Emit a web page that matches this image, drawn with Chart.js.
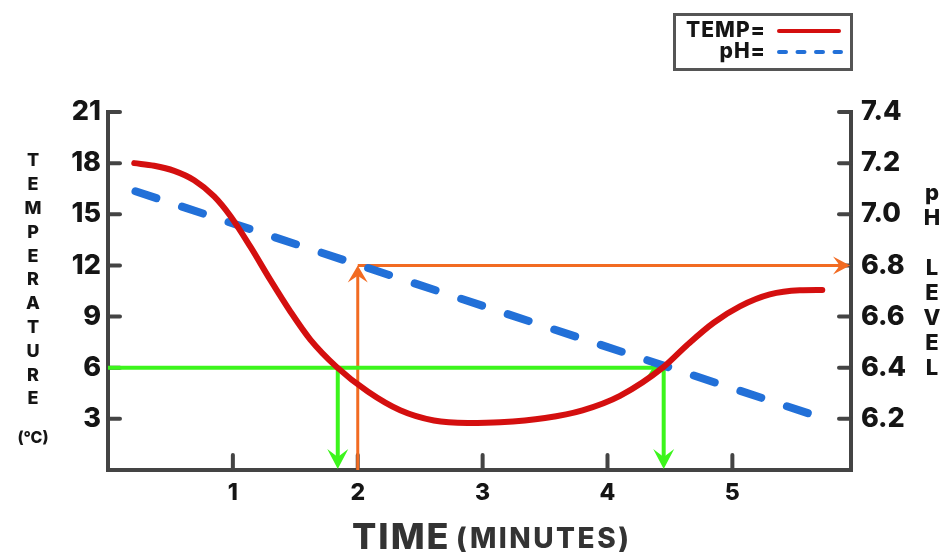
<!DOCTYPE html>
<html><head><meta charset="utf-8">
<script src="https://cdn.jsdelivr.net/npm/chart.js@4.4.0/dist/chart.umd.min.js"></script>
<style>html,body{margin:0;padding:0;background:#fff}#wrap{width:946px;height:552px}</style>
</head><body><div id="wrap"><canvas id="c" width="946" height="552"></canvas></div>
<script>
// ---- data ----
const tempTime   = [0.21, 0.37, 0.53, 0.69, 0.85, 0.98, 1.14, 1.30, 1.46, 1.62, 1.83, 2.08, 2.34, 2.61, 2.88, 3.14, 3.50, 3.80, 4.10, 4.45, 4.64, 4.85, 5.06, 5.30, 5.54, 5.72];
const tempValues = [18.0, 17.85, 17.55, 17.0, 16.05, 14.9, 13.1, 11.15, 9.3, 7.65, 6.05, 4.6, 3.5, 2.9, 2.76, 2.8, 3.05, 3.5, 4.35, 6.05, 7.35, 8.64, 9.6, 10.3, 10.54, 10.56];
const phTime   = [0.22, 5.68];
const phValues = [7.09, 6.21];
const timeTicks = [1, 2, 3, 4, 5];
const tempTicks = [3, 6, 9, 12, 15, 18, 21];
const phTicks   = [6.2, 6.4, 6.6, 6.8, 7.0, 7.2, 7.4];
// reading guides
const orangeTime = 2;
const orangePh = 6.8;
const greenTemp = 6;
const greenTimes = [1.84, 4.45];

const FONT = "Inter, 'DejaVu Sans', sans-serif";
const INK = '#444444';
const LABEL = '#151515';
const RED = '#d40f0f';
const BLUE = '#2270d8';
const ORANGE = '#f26b22';
const GREEN = '#3cf51c';

function arrowHead(ctx, x, y, dir, color, len, half) {
  ctx.save();
  ctx.fillStyle = color;
  ctx.translate(x, y);
  const ang = {right: 0, down: Math.PI / 2, up: -Math.PI / 2}[dir];
  ctx.rotate(ang);
  ctx.beginPath();
  ctx.moveTo(0, 0);
  ctx.lineTo(-len, -half);
  ctx.lineTo(-len * 0.6, 0);
  ctx.lineTo(-len, half);
  ctx.closePath();
  ctx.fill();
  ctx.restore();
}

const decor = {
  id: 'decor',
  beforeDatasetsDraw(chart) {
    const {ctx, chartArea: a, scales} = chart;
    const xs = scales.x, yT = scales.yT, yP = scales.yP;
    ctx.save();
    ctx.strokeStyle = INK; ctx.lineWidth = 4; ctx.lineCap = 'round';
    tempTicks.forEach(v => { const y = yT.getPixelForValue(v); ctx.beginPath(); ctx.moveTo(a.left, y); ctx.lineTo(a.left + 12, y); ctx.stroke(); });
    phTicks.forEach(v => { const y = yP.getPixelForValue(v); ctx.beginPath(); ctx.moveTo(a.right - 12, y); ctx.lineTo(a.right, y); ctx.stroke(); });
    timeTicks.forEach(v => { const x = xs.getPixelForValue(v); ctx.beginPath(); ctx.moveTo(x, a.bottom); ctx.lineTo(x, a.bottom - 15); ctx.stroke(); });
    ctx.fillStyle = INK;
    ctx.fillRect(a.left - 2, a.bottom - 2, 4, 4);
    ctx.fillRect(a.right - 2, a.bottom - 2, 4, 4);
    // orange guide
    const ox = xs.getPixelForValue(orangeTime), oy = yP.getPixelForValue(orangePh);
    ctx.strokeStyle = ORANGE; ctx.lineWidth = 3; ctx.lineCap = 'butt';
    ctx.beginPath(); ctx.moveTo(ox, a.bottom); ctx.lineTo(ox, oy + 8); ctx.stroke();
    ctx.beginPath(); ctx.moveTo(ox, oy); ctx.lineTo(a.right - 8, oy); ctx.stroke();
    arrowHead(ctx, ox, oy, 'up', ORANGE, 17, 10);
    arrowHead(ctx, a.right - 1, oy, 'right', ORANGE, 17, 9);
    // green guides
    const gy = yT.getPixelForValue(greenTemp);
    const gx2 = xs.getPixelForValue(greenTimes[1]);
    ctx.strokeStyle = GREEN; ctx.lineWidth = 4;
    ctx.beginPath(); ctx.moveTo(a.left, gy); ctx.lineTo(gx2 - 8, gy); ctx.stroke();
    arrowHead(ctx, gx2, gy, 'right', GREEN, 18, 11);
    greenTimes.forEach(t => {
      const gx = xs.getPixelForValue(t);
      ctx.beginPath(); ctx.moveTo(gx, gy); ctx.lineTo(gx, a.bottom - 8); ctx.stroke();
      arrowHead(ctx, gx, a.bottom - 1, 'down', GREEN, 20, 10.5);
    });
    ctx.restore();
  },
  afterDraw(chart) {
    const {ctx} = chart;
    const ds = chart.data.datasets;
    ctx.save();
    ctx.fillStyle = LABEL;
    ctx.textAlign = 'center'; ctx.textBaseline = 'middle';
    ctx.font = `800 18px ${FONT}`;
    'TEMPERATURE'.split('').forEach((ch, i) => ctx.fillText(ch, 33, 161 + i * 23.8));
    ctx.font = `800 16px ${FONT}`;
    ctx.fillText('(°C)', 33, 438);
    ctx.font = `800 22px ${FONT}`;
    ['p', 'H', '', 'L', 'E', 'V', 'E', 'L'].forEach((ch, i) => ctx.fillText(ch, 932, 193 + i * 25));
    // x title
    ctx.textBaseline = 'alphabetic'; ctx.textAlign = 'left';
    ctx.fillStyle = '#333';
    ctx.letterSpacing = '2px';
    ctx.font = `800 36px ${FONT}`;
    ctx.fillText('TIME', 352, 549);
    ctx.letterSpacing = '2.5px';
    ctx.font = `800 28px ${FONT}`;
    ctx.fillText('(MINUTES)', 456, 548);
    // legend box
    ctx.letterSpacing = '0px';
    ctx.strokeStyle = '#555'; ctx.lineWidth = 3;
    ctx.strokeRect(674.5, 14.5, 177, 55);
    ctx.fillStyle = LABEL; ctx.textAlign = 'right'; ctx.textBaseline = 'middle';
    ctx.letterSpacing = '1px';
    ctx.font = `800 21px ${FONT}`;
    ctx.fillText(ds[0].label + '=', 766, 31);
    ctx.fillText(ds[1].label + '=', 766, 52);
    ctx.letterSpacing = '0px';
    ctx.lineCap = 'round';
    ctx.strokeStyle = ds[0].borderColor; ctx.lineWidth = 4;
    ctx.beginPath(); ctx.moveTo(779, 31); ctx.lineTo(839, 31); ctx.stroke();
    ctx.strokeStyle = ds[1].borderColor; ctx.setLineDash([7, 11.5]);
    ctx.beginPath(); ctx.moveTo(779, 52); ctx.lineTo(841, 52); ctx.stroke();
    ctx.restore();
  }
};

new Chart(document.getElementById('c'), {
  type: 'line',
  data: {
    datasets: [
      {label: 'TEMP', data: tempTime.map((t, i) => ({x: t, y: tempValues[i]})), yAxisID: 'yT',
       borderColor: RED, borderWidth: 6, pointRadius: 0, cubicInterpolationMode: 'monotone',
       borderCapStyle: 'round', fill: false},
      {label: 'pH', data: phTime.map((t, i) => ({x: t, y: phValues[i]})), yAxisID: 'yP',
       borderColor: BLUE, borderWidth: 8, borderDash: [22, 27], borderCapStyle: 'round',
       pointRadius: 0, fill: false}
    ]
  },
  options: {
    responsive: false, animation: false,
    layout: {padding: {top: 112, left: 0, right: 0, bottom: 0}},
    plugins: {legend: {display: false}, tooltip: {enabled: false}},
    scales: {
      x: {type: 'linear', min: 0, max: 5.95,
          afterFit: s => { s.height = 82; },
          afterBuildTicks: s => { s.ticks = timeTicks.map(v => ({value: v})); },
          grid: {display: false, drawTicks: false},
          border: {display: true, color: INK, width: 4},
          ticks: {padding: 9, color: LABEL, font: {family: FONT, size: 23, weight: 800}, maxRotation: 0}},
      yT: {type: 'linear', position: 'left', min: 0, max: 21,
          afterFit: s => { s.width = 108; },
          afterBuildTicks: s => { s.ticks = tempTicks.map(v => ({value: v})); },
          grid: {display: false, drawTicks: false},
          border: {display: true, color: INK, width: 4},
          ticks: {padding: 7, color: LABEL, font: {family: FONT, size: 27, weight: 800}}},
      yP: {type: 'linear', position: 'right', min: 6, max: 7.4,
          afterFit: s => { s.width = 95; },
          afterBuildTicks: s => { s.ticks = phTicks.map(v => ({value: v})); },
          grid: {display: false, drawTicks: false},
          border: {display: true, color: INK, width: 4},
          ticks: {padding: 10, color: LABEL, font: {family: FONT, size: 27, weight: 800}, callback: v => Number(v).toFixed(1)}}
    }
  },
  plugins: [decor]
});
</script></body></html>
